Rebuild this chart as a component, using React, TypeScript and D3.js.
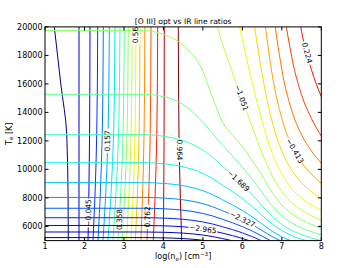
import React from "react";
import * as d3 from "d3";

const width = 357;
const height = 268;
const margin = { top: 26.9, right: 35.7, bottom: 27.4, left: 45 };
const font = "DejaVu Sans, sans-serif";
const labelSize = 7.4;

const xTicks = [1, 2, 3, 4, 5, 6, 7, 8];
const yTicks = [6000, 8000, 10000, 12000, 14000, 16000, 18000, 20000];

// optical/IR ratio (T sensitive): T_e at these log(ne)
const neSamples = [1, 3.5, 4, 4.5, 5, 5.25, 5.5, 5.75, 6, 6.25, 6.5, 6.75, 7, 7.25, 7.5, 7.75, 8];
// the colour scale runs to two levels that never enter the box
const tLevels = [-3.39, -3.178, -2.965, -2.752, -2.54, -2.327, -2.114, -1.902, -1.689,
  -1.476, -1.264, -1.051, -0.838, -0.626, -0.413, -0.2, 0.012, 0.224, 0.437, 0.649];
const tM3390 = [5212, 5212, 5194, 5143, 5026, 4930];
const tM3178 = [5604, 5604, 5584, 5524, 5390, 5280, 5140, 4991];
const tM2965 = [6062, 6062, 6038, 5969, 5812, 5684, 5522, 5350, 5155, 4926];
const tM2752 = [6607, 6607, 6579, 6496, 6311, 6161, 5971, 5771, 5544, 5280, 4974];
const tM2540 = [7270, 7270, 7235, 7134, 6906, 6724, 6494, 6253, 5982, 5670, 5313, 4950];
const tM2327 = [8030, 8030, 7988, 7864, 7589, 7369, 7093, 6807, 6488, 6122, 5708, 5291, 4947];
const tM2114 = [9070, 9070, 9015, 8854, 8498, 8214, 7865, 7506, 7109, 6662, 6162, 5667, 5264, 4963];
const tM1902 = [10470, 10470, 10396, 10182, 9714, 9346, 8897, 8440, 7942, 7387, 6778, 6183, 5706, 5355, 5097, 4903];
const tM1689 = [12435, 12435, 12327, 12016, 11347, 10831, 10211, 9593, 8933, 8214, 7443, 6708, 6132, 5715, 5411, 5185, 4995];
const tM1476 = [15267, 15267, 15106, 14550, 13300, 12500, 11700, 10950, 10150, 9300, 8372, 7454, 6749, 6247, 5887, 5620, 5397];
const tM1264 = [19744, 19744, 19474, 18709, 16900, 15000, 13300, 12400, 11600, 10600, 9561, 8382, 7501, 6886, 6450, 6132, 5867];
const tM1051 = [null, null, null, null, 23020, 20991, 18783, 16793, 14870, 12977, 11152, 9580, 8447, 7675, 7137, 6749, 6430];
const tM0838 = [null, null, null, null, null, null, null, 22406, 19110, 16093, 13378, 11178, 9665, 8667, 7988, 7505, 7112];
const tM0626 = [null, null, null, null, null, null, null, null, 26688, 21151, 16697, 13405, 11285, 9948, 9064, 8447, 7953];
const tM0413 = [null, null, null, null, null, null, null, null, null, 30902, 22237, 16756, 13570, 11682, 10481, 9666, 9024];
const tM0200 = [null, null, null, null, null, null, null, null, null, null, 33278, 22341, 17015, 14148, 12424, 11294, 10428];
const tP0012 = [null, null, null, null, null, null, null, null, null, null, null, 33434, 22769, 17912, 15235, 13570, 12338];
const tP0224 = [null, null, null, null, null, null, null, null, null, null, null, null, 34400, 24402, 19689, 16995, 15106];
const tContours = [tM3390, tM3178, tM2965, tM2752, tM2540, tM2327, tM2114, tM1902, tM1689,
  tM1476, tM1264, tM1051, tM0838, tM0626, tM0413, tM0200, tP0012, tP0224];
// labelled contours: level and log(ne) of the label
const tLabelLevels = [-2.965, -2.327, -1.689, -1.051, -0.413, 0.224];
const tLabelNe = [5.0, 6.0, 5.9, 5.98, 7.33, 7.64];

// IR/IR ratio (density sensitive): log(ne) at these T_e
const teSamples = [5000, 8000, 12500, 16000, 20000];
const nLevels = [-0.179, -0.112, -0.045, 0.022, 0.09, 0.157, 0.224, 0.291, 0.358,
  0.425, 0.493, 0.56, 0.627, 0.694, 0.762, 0.829, 0.896, 0.964];
const nM0179 = [1.59, 1.585, 1.55, 1.4, 1.236];
const nM0112 = [1.861, 1.861, 1.861, 1.861, 1.861];
const nM0045 = [2.09, 2.11, 2.13, 2.136, 2.14];
const nP0022 = [2.216, 2.264, 2.311, 2.327, 2.335];
const nP0090 = [2.343, 2.397, 2.45, 2.468, 2.477];
const nP0157 = [2.47, 2.534, 2.597, 2.618, 2.629];
const nP0224 = [2.596, 2.667, 2.738, 2.761, 2.773];
const nP0291 = [2.72, 2.792, 2.864, 2.887, 2.9];
const nP0358 = [2.85, 2.914, 2.977, 2.998, 3.009];
const nP0425 = [2.95, 3.014, 3.078, 3.099, 3.11];
const nP0493 = [3.065, 3.123, 3.181, 3.2, 3.21];
const nP0560 = [3.18, 3.23, 3.28, 3.296, 3.305];
const nP0627 = [3.29, 3.337, 3.384, 3.399, 3.407];
const nP0694 = [3.43, 3.47, 3.51, 3.523, 3.53];
const nP0762 = [3.584, 3.625, 3.666, 3.679, 3.686];
const nP0829 = [3.744, 3.788, 3.833, 3.847, 3.855];
const nP0896 = [3.997, 4.007, 4.017, 4.02, 4.022];
const nP0964 = [4.463, 4.429, 4.394, 4.383, 4.377];
const nContours = [nM0179, nM0112, nM0045, nP0022, nP0090, nP0157, nP0224, nP0291, nP0358,
  nP0425, nP0493, nP0560, nP0627, nP0694, nP0762, nP0829, nP0896, nP0964];
const nLabelLevels = [-0.045, 0.157, 0.358, 0.56, 0.762, 0.964];
const nLabelTe = [6940, 12000, 6480, 19600, 6670, 11360];
const nLabelRot = [-90, -90, -90, -90, -90, 90];

const x = d3.scaleLinear().domain([1, 8]).range([margin.left, width - margin.right]);
const y = d3.scaleLinear().domain([5000, 20000]).range([height - margin.bottom, margin.top]);

// matplotlib "jet"
const jetR = d3.scaleLinear().domain([0, 0.35, 0.66, 0.89, 1]).range([0, 0, 1, 1, 0.5]).clamp(true);
const jetG = d3.scaleLinear().domain([0, 0.125, 0.375, 0.64, 0.91, 1]).range([0, 0, 1, 1, 0, 0]).clamp(true);
const jetB = d3.scaleLinear().domain([0, 0.11, 0.34, 0.65, 1]).range([0.5, 1, 1, 0, 0]).clamp(true);
const jet = (f: number) => d3.rgb(255 * jetR(f), 255 * jetG(f), 255 * jetB(f)).formatHex();

const tNorm = d3.scaleLinear().domain(d3.extent(tLevels) as [number, number]);
const nNorm = d3.scaleLinear().domain(d3.extent(nLevels) as [number, number]);

const fmt = d3.format(".3f");
const textW = (s: string) =>
  [...s].reduce((a, c) => a + (c === "." ? 0.318 : c === "-" ? 0.361 : 0.636), 0) * labelSize;

const tLine = d3.line<[number, number]>().x((d) => x(d[0])).y((d) => y(d[1])).curve(d3.curveMonotoneX);
const nLine = d3.line<[number, number]>().x((d) => x(d[0])).y((d) => y(d[1])).curve(d3.curveMonotoneY);

const tPaths = tContours.map((arr, i) => {
  const pts = neSamples
    .map((ne, j) => [ne, arr[j]] as [number, number | null])
    .filter((p) => p[1] != null) as [number, number][];
  return { level: tLevels[i], pts, d: tLine(pts) };
});

const nPaths = nContours.map((arr, i) => {
  const pts = teSamples.map((t, j) => [arr[j], t] as [number, number]).reverse();
  return { level: nLevels[i], pts, d: nLine(pts) };
});

const tLabels = tLabelLevels.map((lev, k) => {
  const c = tPaths.find((p) => p.level === lev)!;
  const f = d3.scaleLinear().domain(c.pts.map((p) => p[0])).range(c.pts.map((p) => p[1]));
  const ne = tLabelNe[k];
  const x1 = x(ne - 0.06), y1 = y(f(ne - 0.06));
  const x2 = x(ne + 0.06), y2 = y(f(ne + 0.06));
  const rot = (Math.atan2(y2 - y1, x2 - x1) * 180) / Math.PI;
  return { text: fmt(lev), cx: x(ne), cy: y(f(ne)), rot };
});

const nLabels = nLabelLevels.map((lev, k) => {
  const c = nPaths.find((p) => p.level === lev)!;
  const asc = [...c.pts].reverse();
  const f = d3.scaleLinear().domain(asc.map((p) => p[1])).range(asc.map((p) => p[0]));
  const t = nLabelTe[k];
  return { text: fmt(lev), cx: x(f(t)), cy: y(t), rot: nLabelRot[k] };
});

type Label = { text: string; cx: number; cy: number; rot: number };

const LabelMask = ({ id, labels }: { id: string; labels: Label[] }) => (
  <mask id={id} maskUnits="userSpaceOnUse" x={0} y={0} width={width} height={height}>
    <rect x={0} y={0} width={width} height={height} fill="white" />
    {labels.map((l, i) => {
      const w = textW(l.text) + 3;
      return (
        <rect
          key={i}
          x={-w / 2}
          y={-labelSize / 2 - 0.5}
          width={w}
          height={labelSize + 1}
          fill="black"
          transform={`translate(${l.cx},${l.cy}) rotate(${l.rot})`}
        />
      );
    })}
  </mask>
);

const App = () => {
  const left = margin.left;
  const right = width - margin.right;
  const top = margin.top;
  const bottom = height - margin.bottom;
  const tick = 3.5;
  const allLabels = [...tLabels, ...nLabels];

  return (
    <svg
      width={width}
      height={height}
      style={{ position: "absolute", left: 0, top: 0, background: "#fff" }}
      fontFamily={font}
    >
      <defs>
        <clipPath id="plot">
          <rect x={left} y={top} width={right - left} height={bottom - top} />
        </clipPath>
        <LabelMask id="tmask" labels={tLabels} />
        <LabelMask id="nmask" labels={nLabels} />
      </defs>
      <rect x={0} y={0} width={width} height={height} fill="#fff" />

      <g clipPath="url(#plot)">
        <g mask="url(#nmask)">
          {nPaths.map((p) => (
            <path key={p.level} d={p.d ?? ""} fill="none" stroke={jet(nNorm(p.level))} strokeWidth={1} />
          ))}
        </g>
        <g mask="url(#tmask)">
          {tPaths.map((p) => (
            <path key={p.level} d={p.d ?? ""} fill="none" stroke={jet(tNorm(p.level))} strokeWidth={1} />
          ))}
        </g>
        {allLabels.map((l, i) => (
          <text
            key={i}
            transform={`translate(${l.cx},${l.cy}) rotate(${l.rot})`}
            textAnchor="middle"
            dominantBaseline="central"
            fontSize={labelSize}
            fill="#000"
          >
            {l.text}
          </text>
        ))}
      </g>

      <rect x={left} y={top} width={right - left} height={bottom - top} fill="none" stroke="#000" strokeWidth={1} />

      {xTicks.map((t) => (
        <g key={t}>
          <line x1={x(t)} x2={x(t)} y1={bottom} y2={bottom - tick} stroke="#000" />
          <line x1={x(t)} x2={x(t)} y1={top} y2={top + tick} stroke="#000" />
          <text x={x(t)} y={bottom + 8} textAnchor="middle" fontSize={8}>
            {t}
          </text>
        </g>
      ))}
      {yTicks.map((t) => (
        <g key={t}>
          <line x1={left} x2={left + tick} y1={y(t)} y2={y(t)} stroke="#000" />
          <line x1={right} x2={right - tick} y1={y(t)} y2={y(t)} stroke="#000" />
          <text x={left - 2.5} y={y(t) + 2.9} textAnchor="end" fontSize={8}>
            {t}
          </text>
        </g>
      ))}

      <text x={(left + right) / 2} y={top - 3} textAnchor="middle" fontSize={7.6}>
        [O III] opt vs IR line ratios
      </text>
      <text x={(left + right) / 2} y={259} textAnchor="middle" fontSize={8}>
        log(n<tspan fontSize={5.6} dy={1.8}>e</tspan>
        <tspan dy={-1.8}>) [cm</tspan>
        <tspan fontSize={5.6} dy={-3.2}>−3</tspan>
        <tspan dy={3.2}>]</tspan>
      </text>
      <text transform={`translate(11.5,${(top + bottom) / 2}) rotate(-90)`} textAnchor="middle" fontSize={8}>
        T<tspan fontSize={5.6} dy={1.8}>e</tspan>
        <tspan dy={-1.8}> [K]</tspan>
      </text>
    </svg>
  );
};

export default App;
